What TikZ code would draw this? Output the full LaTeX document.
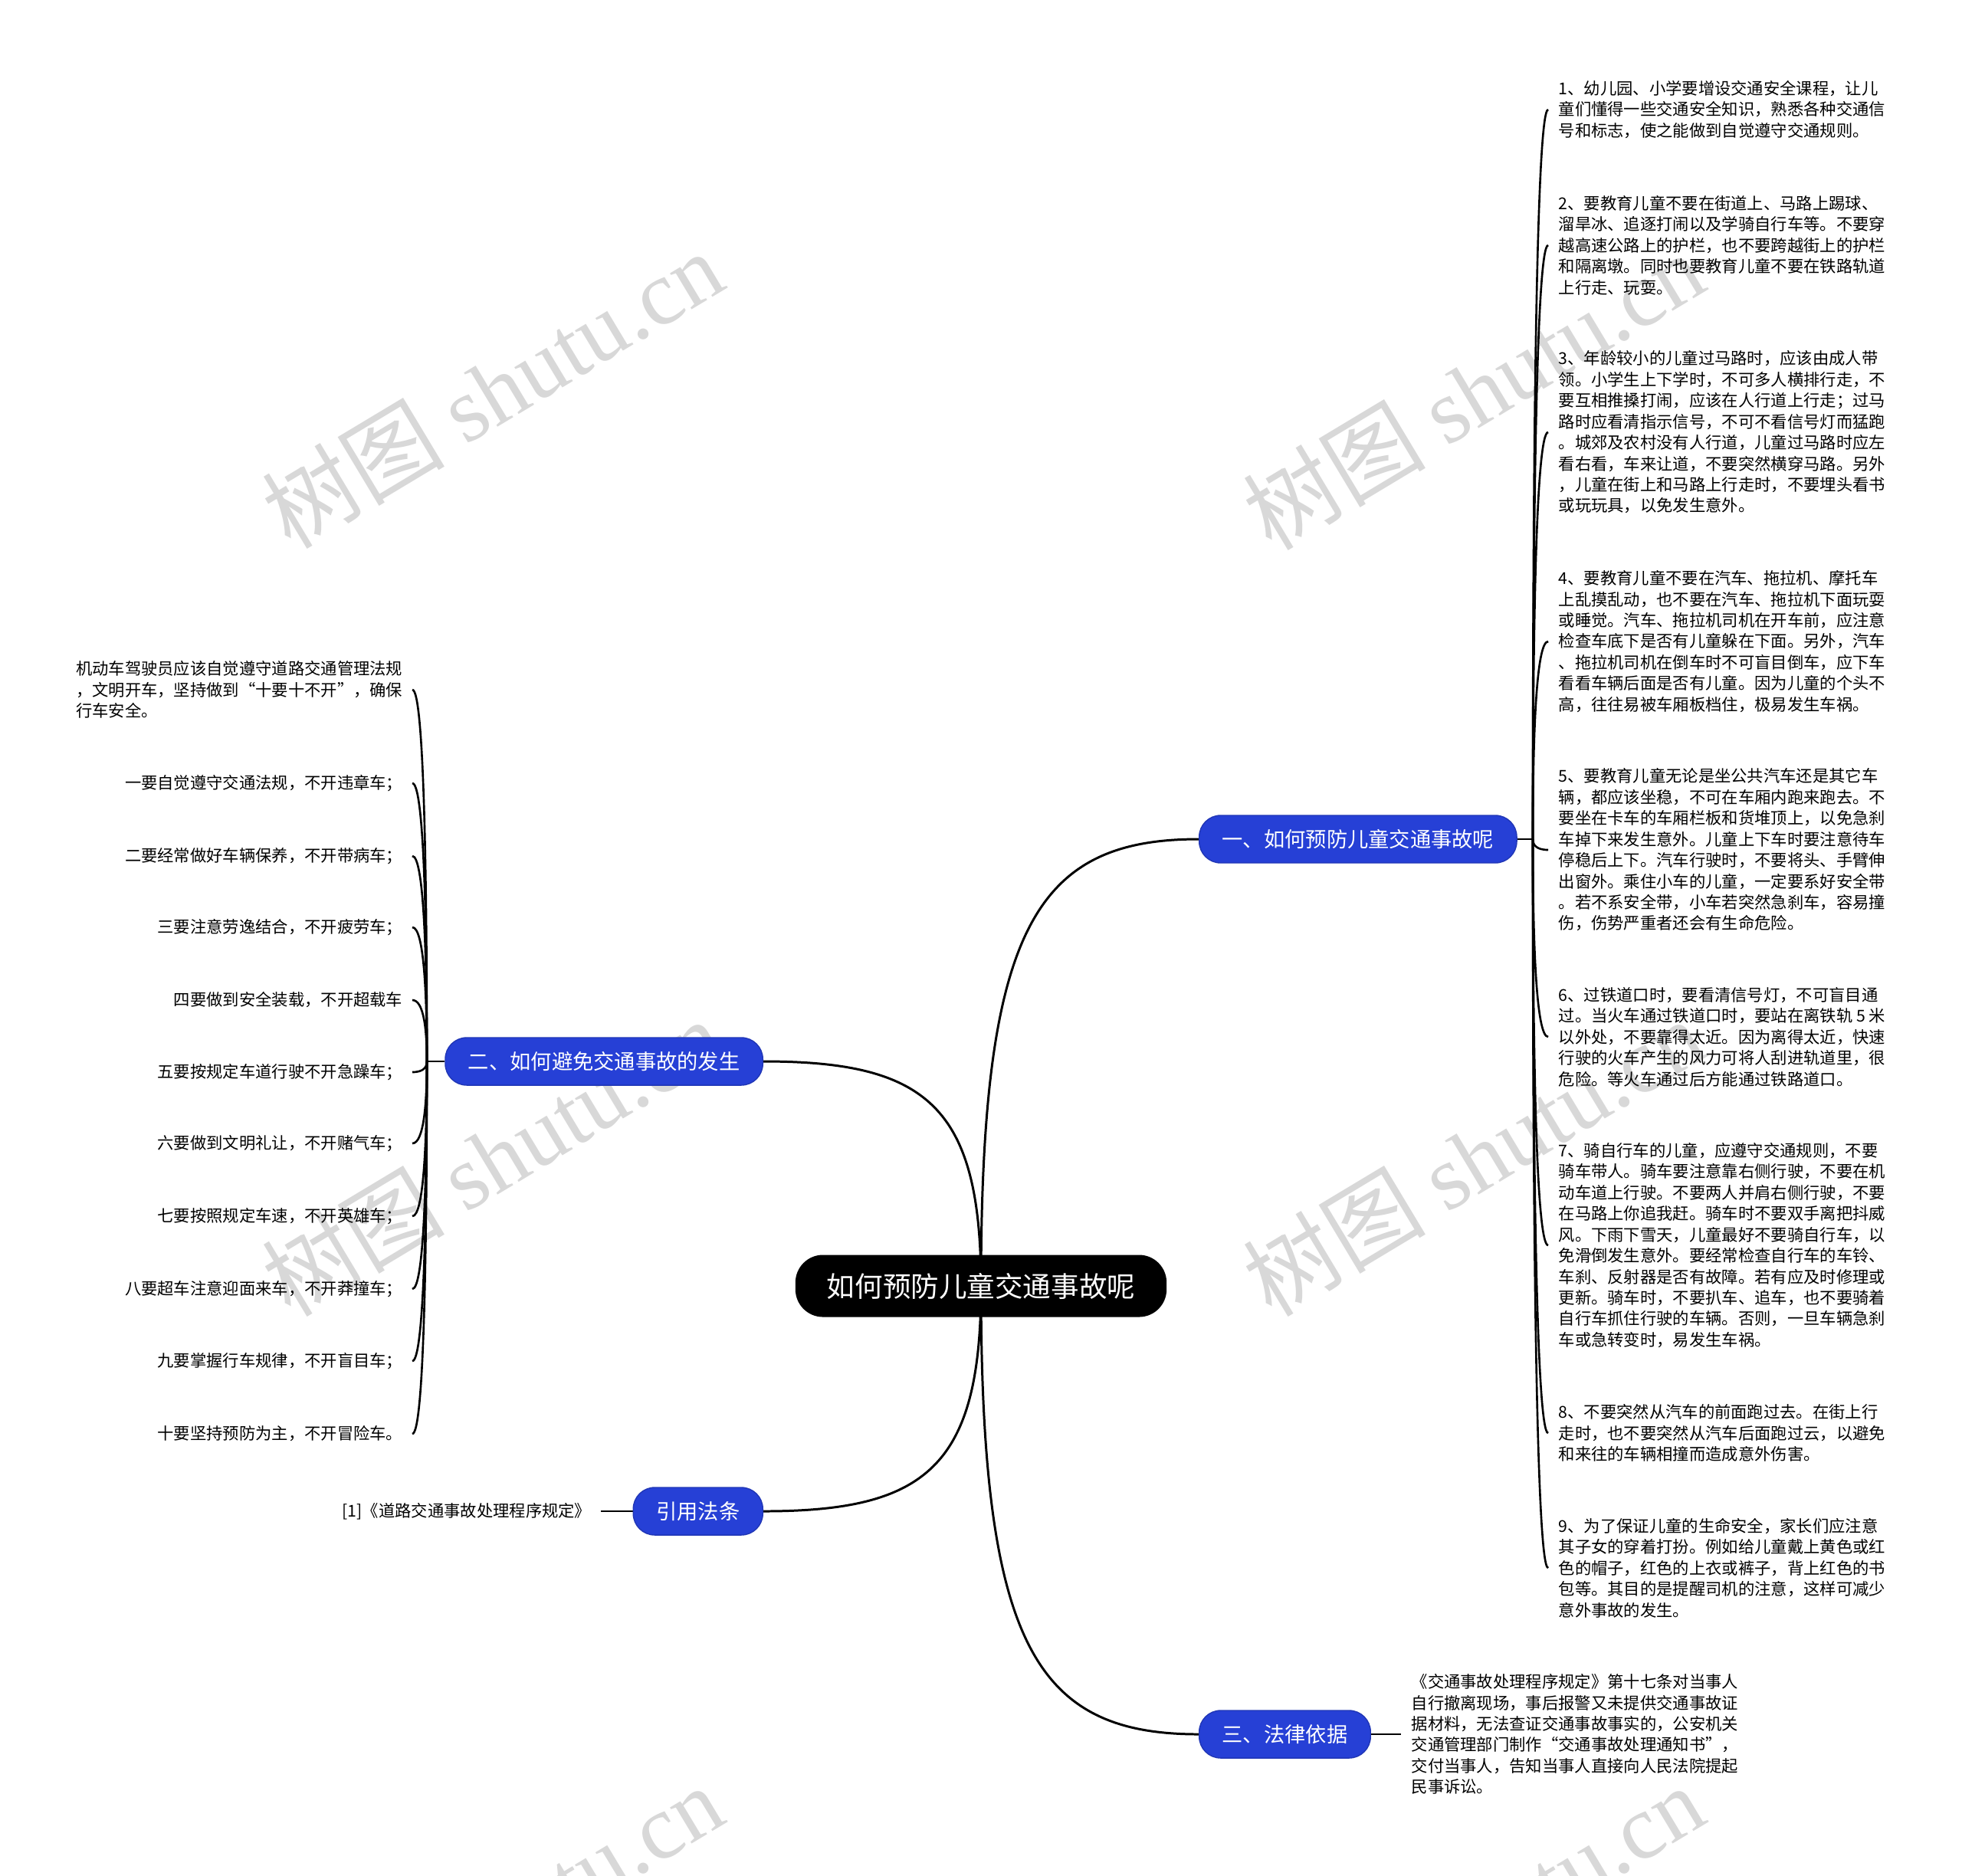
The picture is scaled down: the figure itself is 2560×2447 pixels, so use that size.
\documentclass[tikz,border=0pt]{standalone}
\usepackage{fontspec}
\setmainfont{Noto Sans CJK SC}
\newfontfamily\wmlatin{Liberation Serif}
\usetikzlibrary{calc}
\pgfdeclarelayer{wm}
\pgfdeclarelayer{bg}
\pgfsetlayers{wm,bg,main}
\definecolor{branchblue}{RGB}{38,64,214}
\definecolor{wmgray}{RGB}{216,216,216}
\newcommand\mainlink[2]{\draw[link] let \p1=(#1), \p2=(#2) in (\p1) .. controls (\x1,{\y1+0.8*(\y2-\y1)}) and ({\x1+0.25*(\x2-\x1)},\y2) .. (\p2);}
\newcommand\twiglink[2]{\draw[twig] let \p1=(#1), \p2=(#2) in (\p1) .. controls (\x1,{\y1+0.5*(\y2-\y1)}) and ({\x1+0.2*(\x2-\x1)},\y2) .. (\p2);}
\begin{document}
\begin{tikzpicture}[x=0.01cm,y=-0.01cm,
  rootbox/.style={fill=black, text=white, rounded corners=0.36cm, inner xsep=0.41cm, inner ysep=0pt, minimum height=0.81cm, font=\fontsize{10.4pt}{12pt}\selectfont},
  branchbox/.style={fill=branchblue, draw=branchblue!85!black, line width=0.4pt, text=white, rounded corners=0.28cm, inner xsep=0.3cm, inner ysep=0pt, minimum height=0.62cm, font=\fontsize{7.75pt}{9pt}\selectfont},
  leafR/.style={anchor=west, align=left, inner xsep=0.13cm, inner ysep=0pt, font=\fontsize{6.06pt}{7.8pt}\selectfont},
  leafL/.style={anchor=east, align=right, inner xsep=0.12cm, inner ysep=0pt, font=\fontsize{6.06pt}{7.8pt}\selectfont},
  link/.style={line width=0.85pt, black},
  twig/.style={line width=0.75pt, black},
  watermark/.style={text=wmgray, rotate=31, inner sep=0pt, font=\fontsize{34pt}{38pt}\selectfont}
]
\path[use as bounding box] (0,0) rectangle (2560,2447);
\begin{pgfonlayer}{wm}
\fill[white] (0,0) rectangle (2560,2447);
\begin{scope}
\clip (0,0) rectangle (2560,2447);
\node[watermark] (wm1) at (642,508) {树图 {\wmlatin shutu.cn}};
\node[watermark] (wm2) at (1922,510) {树图 {\wmlatin shutu.cn}};
\node[watermark] (wm3) at (642,1510) {树图 {\wmlatin shutu.cn}};
\node[watermark] (wm4) at (1922,1510) {树图 {\wmlatin shutu.cn}};
\node[watermark] (wm5) at (642,2510) {树图 {\wmlatin shutu.cn}};
\node[watermark] (wm6) at (1922,2510) {树图 {\wmlatin shutu.cn}};
\end{scope}
\end{pgfonlayer}

% main nodes
\node[rootbox] (root) at (1280,1678) {如何预防儿童交通事故呢};
\node[branchbox, anchor=west] (b1) at (1564,1095) {一、如何预防儿童交通事故呢};
\node[branchbox, anchor=east] (b2) at (996,1385) {二、如何避免交通事故的发生};
\node[branchbox, anchor=east] (b3) at (996,1972) {引用法条};
\node[branchbox, anchor=west] (b4) at (1564,2263) {三、法律依据};

\coordinate (f1) at (2000,1095);
\coordinate (f2) at (557,1385);

% right leaves of branch 1
\node[leafR] (r1) at (2020,143) {1、幼儿园、小学要增设交通安全课程，让儿\\童们懂得一些交通安全知识，熟悉各种交通信\\号和标志，使之能做到自觉遵守交通规则。};
\node[leafR] (r2) at (2020,320) {2、要教育儿童不要在街道上、马路上踢球、\\溜旱冰、追逐打闹以及学骑自行车等。不要穿\\越高速公路上的护栏，也不要跨越街上的护栏\\和隔离墩。同时也要教育儿童不要在铁路轨道\\上行走、玩耍。};
\node[leafR] (r3) at (2020,564) {3、年龄较小的儿童过马路时，应该由成人带\\领。小学生上下学时，不可多人横排行走，不\\要互相推搡打闹，应该在人行道上行走；过马\\路时应看清指示信号，不可不看信号灯而猛跑\\。城郊及农村没有人行道，儿童过马路时应左\\看右看，车来让道，不要突然横穿马路。另外\\，儿童在街上和马路上行走时，不要埋头看书\\或玩玩具，以免发生意外。};
\node[leafR] (r4) at (2020,837) {4、要教育儿童不要在汽车、拖拉机、摩托车\\上乱摸乱动，也不要在汽车、拖拉机下面玩耍\\或睡觉。汽车、拖拉机司机在开车前，应注意\\检查车底下是否有儿童躲在下面。另外，汽车\\、拖拉机司机在倒车时不可盲目倒车，应下车\\看看车辆后面是否有儿童。因为儿童的个头不\\高，往往易被车厢板档住，极易发生车祸。};
\node[leafR] (r5) at (2020,1109) {5、要教育儿童无论是坐公共汽车还是其它车\\辆，都应该坐稳，不可在车厢内跑来跑去。不\\要坐在卡车的车厢栏板和货堆顶上，以免急刹\\车掉下来发生意外。儿童上下车时要注意待车\\停稳后上下。汽车行驶时，不要将头、手臂伸\\出窗外。乘住小车的儿童，一定要系好安全带\\。若不系安全带，小车若突然急刹车，容易撞\\伤，伤势严重者还会有生命危险。};
\node[leafR] (r6) at (2020,1353) {6、过铁道口时，要看清信号灯，不可盲目通\\过。当火车通过铁道口时，要站在离铁轨 5 米\\以外处，不要靠得太近。因为离得太近，快速\\行驶的火车产生的风力可将人刮进轨道里，很\\危险。等火车通过后方能通过铁路道口。};
\node[leafR] (r7) at (2020,1625) {7、骑自行车的儿童，应遵守交通规则，不要\\骑车带人。骑车要注意靠右侧行驶，不要在机\\动车道上行驶。不要两人并肩右侧行驶，不要\\在马路上你追我赶。骑车时不要双手离把抖威\\风。下雨下雪天，儿童最好不要骑自行车，以\\免滑倒发生意外。要经常检查自行车的车铃、\\车刹、反射器是否有故障。若有应及时修理或\\更新。骑车时，不要扒车、追车，也不要骑着\\自行车抓住行驶的车辆。否则，一旦车辆急刹\\车或急转变时，易发生车祸。};
\node[leafR] (r8) at (2020,1870) {8、不要突然从汽车的前面跑过去。在街上行\\走时，也不要突然从汽车后面跑过云，以避免\\和来往的车辆相撞而造成意外伤害。};
\node[leafR] (r9) at (2020,2046) {9、为了保证儿童的生命安全，家长们应注意\\其子女的穿着打扮。例如给儿童戴上黄色或红\\色的帽子，红色的上衣或裤子，背上红色的书\\包等。其目的是提醒司机的注意，这样可减少\\意外事故的发生。};

% left leaves of branch 2
\node[leafL, align=left] (l0) at (538,900) {机动车驾驶员应该自觉遵守道路交通管理法规\\，文明开车，坚持做到“十要十不开”，确保\\行车安全。};
\node[leafL] (l1) at (538,1022) {一要自觉遵守交通法规，不开违章车；};
\node[leafL] (l2) at (538,1117) {二要经常做好车辆保养，不开带病车；};
\node[leafL] (l3) at (538,1210) {三要注意劳逸结合，不开疲劳车；};
\node[leafL] (l4) at (538,1305) {四要做到安全装载，不开超载车};
\node[leafL] (l5) at (538,1399) {五要按规定车道行驶不开急躁车；};
\node[leafL] (l6) at (538,1492) {六要做到文明礼让，不开赌气车；};
\node[leafL] (l7) at (538,1587) {七要按照规定车速，不开英雄车；};
\node[leafL] (l8) at (538,1682) {八要超车注意迎面来车，不开莽撞车；};
\node[leafL] (l9) at (538,1776) {九要掌握行车规律，不开盲目车；};
\node[leafL] (l10) at (538,1871) {十要坚持预防为主，不开冒险车。};

% other leaves
\node[leafL] (c1) at (784,1972) {[1]《道路交通事故处理程序规定》};
\node[leafR] (d1) at (1828,2263) {《交通事故处理程序规定》第十七条对当事人\\自行撤离现场，事后报警又未提供交通事故证\\据材料，无法查证交通事故事实的，公安机关\\交通管理部门制作“交通事故处理通知书”，\\交付当事人，告知当事人直接向人民法院提起\\民事诉讼。};

\begin{pgfonlayer}{bg}
\mainlink{root.center}{b1.west}
\mainlink{root.center}{b2.east}
\mainlink{root.center}{b3.east}
\mainlink{root.center}{b4.west}
\draw[twig] (b1.east) -- (f1);
\draw[twig] (b2.west) -- (f2);
\foreach \leafname in {r1,r2,r3,r4,r5,r6,r7,r8,r9} {\twiglink{f1}{\leafname.west}}
\foreach \leafname in {l0,l1,l2,l3,l4,l5,l6,l7,l8,l9,l10} {\twiglink{f2}{\leafname.east}}
\draw[twig] (b3.west) -- (c1.east);
\draw[twig] (b4.east) -- (d1.west);
\end{pgfonlayer}
\end{tikzpicture}
\end{document}
